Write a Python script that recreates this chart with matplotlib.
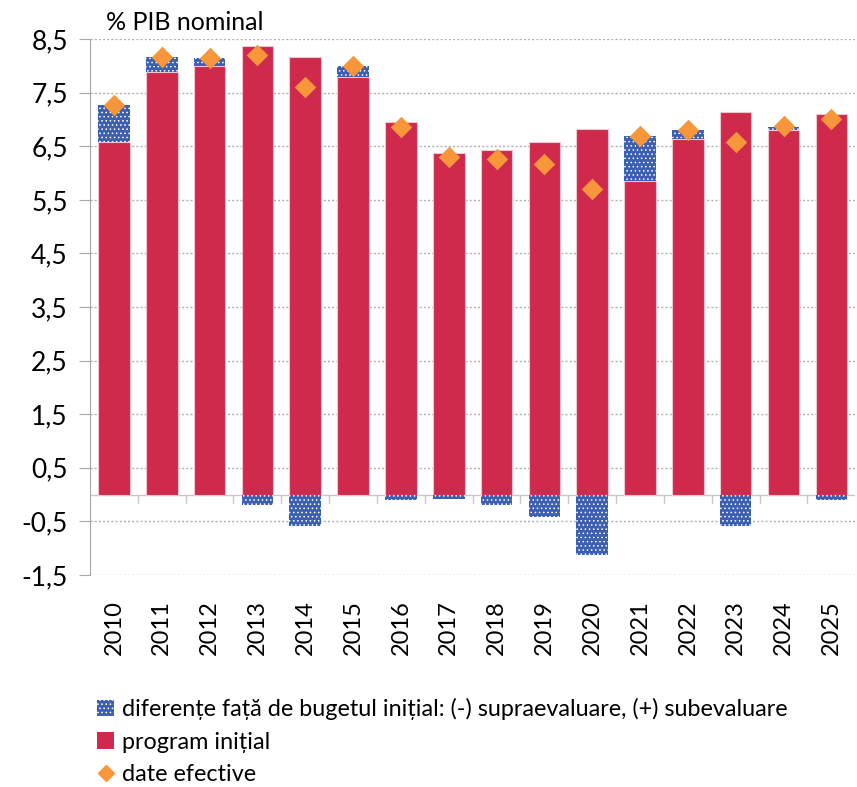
import numpy as np
import matplotlib
matplotlib.use("Agg")
import matplotlib.pyplot as plt
from matplotlib.patches import Patch
from matplotlib.lines import Line2D

# Data (% PIB nominal)
years = ["2010", "2011", "2012", "2013", "2014", "2015", "2016", "2017",
         "2018", "2019", "2020", "2021", "2022", "2023", "2024", "2025"]
program_initial = [6.57, 7.88, 8.00, 8.37, 8.17, 7.80, 6.96, 6.37,
                   6.43, 6.57, 6.83, 5.86, 6.63, 7.13, 6.80, 7.10]
differences = [0.70, 0.29, 0.14, -0.19, -0.58, 0.20, -0.11, -0.08,
               -0.19, -0.41, -1.12, 0.84, 0.17, -0.58, 0.06, -0.11]
actual = [7.27, 8.17, 8.14, 8.20, 7.60, 8.00, 6.86, 6.29,
          6.26, 6.16, 5.70, 6.70, 6.80, 6.57, 6.87, 7.00]

plt.rcParams['font.family'] = ['Lato', 'DejaVu Sans']
plt.rcParams['hatch.linewidth'] = 0.6

red = '#cf2a4c'
blue = '#3d5fb0'
orange = '#f7963b'

fig = plt.figure(figsize=(8.57, 7.87), dpi=100)
ax = fig.add_axes([0.105, 0.2694, 0.893, 0.681])

x = np.arange(len(years))
diff = np.array(differences)
prog = np.array(program_initial)
bottoms = np.where(diff > 0, prog, 0)

ax.bar(x, prog, width=0.66, color=red, edgecolor='#f2c4cd', linewidth=0.8, zorder=2)
ax.bar(x, diff, width=0.66, bottom=bottoms, color=blue, edgecolor='white',
       linewidth=0, hatch='....', zorder=2)
ax.scatter(x, actual, marker='D', s=120, color=orange, zorder=4, linewidths=0)

ax.set_xlim(-0.5, len(years) - 0.5)
ax.set_ylim(-1.5, 8.5)
yt = np.arange(-1.5, 8.6, 1.0)
ax.set_yticks(yt)
ax.set_yticklabels([f"{v:.1f}".replace('.', ',') for v in yt], fontsize=19)
ax.tick_params(axis='y', length=8, color='#a6a6a6', pad=8)
ax.grid(axis='y', linestyle=(0, (1.5, 1.5)), color='#b0b0b0', linewidth=1, zorder=0)

ax.set_xticks(x)
ax.set_xticklabels(years, rotation=90, fontsize=17)
ax.tick_params(axis='x', length=0, pad=18)

# zero line with category separators
ax.axhline(0, color='#c8c8c8', linewidth=1, zorder=1)
for b in np.arange(0.5, len(years) - 0.5, 1):
    ax.plot([b, b], [0, -0.15], color='#c8c8c8', linewidth=1, zorder=1)

for s in ['top', 'right', 'bottom']:
    ax.spines[s].set_visible(False)
ax.spines['left'].set_color('#a6a6a6')

fig.text(0.124, 0.972, "% PIB nominal", fontsize=18, va='center', ha='left')

handles = [
    Patch(facecolor=blue, edgecolor='white', linewidth=0, hatch='....'),
    Patch(facecolor=red),
    Line2D([], [], marker='D', color=orange, linestyle='none', markersize=8),
]
labels = ["diferențe față de bugetul inițial: (-) supraevaluare, (+) subevaluare",
          "program inițial", "date efective"]
fig.legend(handles, labels, loc='upper left', bbox_to_anchor=(0.1, 0.128),
           frameon=False, fontsize=16.8, handlelength=0.7, handleheight=0.7,
           handletextpad=0.35, labelspacing=0.5, borderpad=0)

fig.savefig("out.png", dpi=100)
